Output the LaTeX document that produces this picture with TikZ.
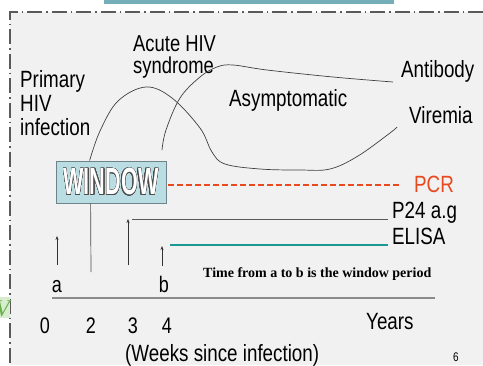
\documentclass[tikz,border=0pt]{standalone}
\usepackage{fontspec}
\setmainfont{Liberation Sans}
\newfontfamily\serifA{Liberation Serif}
\usepackage{contour}
\contourlength{0.6pt}
\contournumber{24}
\usetikzlibrary{arrows.meta,calc}
\definecolor{bgc}{HTML}{F1F1F1}
\definecolor{barc}{HTML}{74AFB9}
\definecolor{framec}{HTML}{5A5A5A}
\definecolor{winfill}{HTML}{B9DDE3}
\definecolor{winedge}{HTML}{6E8488}
\definecolor{pcrc}{HTML}{E8491E}
\definecolor{elisac}{HTML}{1A9894}
\definecolor{axisc}{HTML}{8C8C8C}
\definecolor{greenbox}{HTML}{D8EDCF}
\definecolor{greenv}{HTML}{6AB04C}
\newcommand\nar[1]{\scalebox{0.8}[1]{#1}}
\begin{document}
\begin{tikzpicture}[x=1pt,y=-1pt,
  lbl/.style={anchor=base west, inner sep=0pt, font=\fontsize{23.5}{25}\selectfont},
  num/.style={anchor=base, inner sep=0pt, font=\fontsize{22.5}{24}\selectfont},
  curve/.style={draw=black!75, line width=0.7pt},
  thin/.style={draw=black!70, line width=0.7pt},
  uparrow/.style={draw=black!80, line width=0.6pt, -{Stealth[length=4pt,width=3pt]}},
  frame/.style={draw=framec, line width=1.2pt, dash pattern=on 15pt off 4pt on 1.5pt off 4pt}]
\useasboundingbox (0,0) rectangle (483,365);
\fill[white] (0,0) rectangle (483,365);
\fill[bgc] (10,12) rectangle (483,365);
\fill[barc] (104,0) rectangle (394,4);
\draw[frame] (483,12) -- (10,12) -- (10,365);
% green partial box
\fill[greenbox] (0,297) rectangle (10,318);
\begin{scope}
\clip (0,297) rectangle (10,318);
\node[anchor=base east, inner sep=0pt, text=greenv, font=\fontsize{24}{26}\selectfont\serifA\itshape] (gv) at (10,316) {V};
\end{scope}
% labels
\node[lbl] (prim1) at (20,87) {\nar{Primary}};
\node[lbl] (prim2) at (20,111) {\nar{HIV}};
\node[lbl] (prim3) at (20,135) {\nar{infection}};
\node[lbl, font=\fontsize{23}{25}\selectfont] (acute1) at (133,51) {\nar{Acute HIV}};
\node[lbl, font=\fontsize{23}{25}\selectfont] (acute2) at (133,73) {\nar{syndrome}};
\node[lbl] (anti) at (401,77) {\nar{Antibody}};
\node[lbl] (asym) at (229,106) {\nar{Asymptomatic}};
\node[lbl] (vire) at (409,123) {\nar{Viremia}};
\node[lbl, text=pcrc] (pcr) at (414,192) {\nar{PCR}};
\node[lbl] (p24) at (392,218) {\nar{P24 a.g}};
\node[lbl] (elisa) at (392,244) {\nar{ELISA}};
\node[num] (la) at (57,292) {\nar{a}};
\node[num] (lb) at (164,292) {\nar{b}};
\node[num] (n0) at (45,333) {\nar{0}};
\node[num] (n2) at (91,333) {\nar{2}};
\node[num] (n3) at (133,333) {\nar{3}};
\node[num] (n4) at (167,333) {\nar{4}};
\node[lbl] (years) at (366,329) {\nar{Years}};
\node[lbl] (weeks) at (125,361) {\nar{(Weeks since infection)}};
\node[anchor=base west, inner sep=0pt, font=\fontsize{12.5}{14}\selectfont] (pg) at (453,361) {\nar{6}};
\node[anchor=base west, inner sep=0pt, font=\fontsize{14}{16}\selectfont\serifA\bfseries] (note) at (203,277) {Time from a to b is the window period};
% window box
\node[draw=winedge, fill=winfill, line width=0.8pt, minimum width=110pt, minimum height=42pt, inner sep=0pt] (win) at (111,182)
  {\fontsize{38}{40}\selectfont\bfseries\scalebox{0.57}[1]{\contour{black!70}{\textcolor{white}{WINDOW}}}};
% coordinates
\coordinate (vstart) at ($(win.north west)+(34,0)$);
\coordinate (vdown) at ($(win.south west)+(35,0)$);
\coordinate (vdownend) at (91,272);
\coordinate (pcrS) at ($(win.east)+(2,3)$);
\coordinate (pcrE) at (400,185);
\coordinate (p24S) at (132,219);
\coordinate (p24E) at (388,219);
\coordinate (elS) at (170,245);
\coordinate (elE) at (388,245);
\coordinate (axS) at (52,298);
\coordinate (axE) at (435,298);
\coordinate (aA) at (57,265); \coordinate (aAt) at (57,236);
\coordinate (a3) at (128,265); \coordinate (a3t) at (128,219);
\coordinate (aB) at (162,266); \coordinate (aBt) at (162,246);
% curves
\draw[curve] plot[smooth, tension=0.6] coordinates {(vstart) (100,131) (118,101) (146,87) (172,98) (200,128) (212,152) (225,164) (260,169) (300,170) (330,169) (358,156) (390,133) (397,127)};
\draw[curve] plot[smooth, tension=0.6] coordinates {(162,150) (166,130) (180,98) (200,77) (217,67) (233,65) (267,70) (333,77) (393,82)};
% lines
\draw[thin] (vdown) -- (vdownend);
\draw[draw=pcrc, line width=1.4pt, dash pattern=on 6pt off 3pt] (pcrS) -- (pcrE);
\draw[draw=black!65, line width=0.8pt] (p24S) -- (p24E);
\draw[draw=elisac, line width=2.6pt] (elS) -- (elE);
\draw[draw=axisc, line width=1.5pt] (axS) -- (axE);
\draw[uparrow] (aA) -- (aAt);
\draw[uparrow] (a3) -- (a3t);
\draw[uparrow] (aB) -- (aBt);
\end{tikzpicture}
\end{document}
